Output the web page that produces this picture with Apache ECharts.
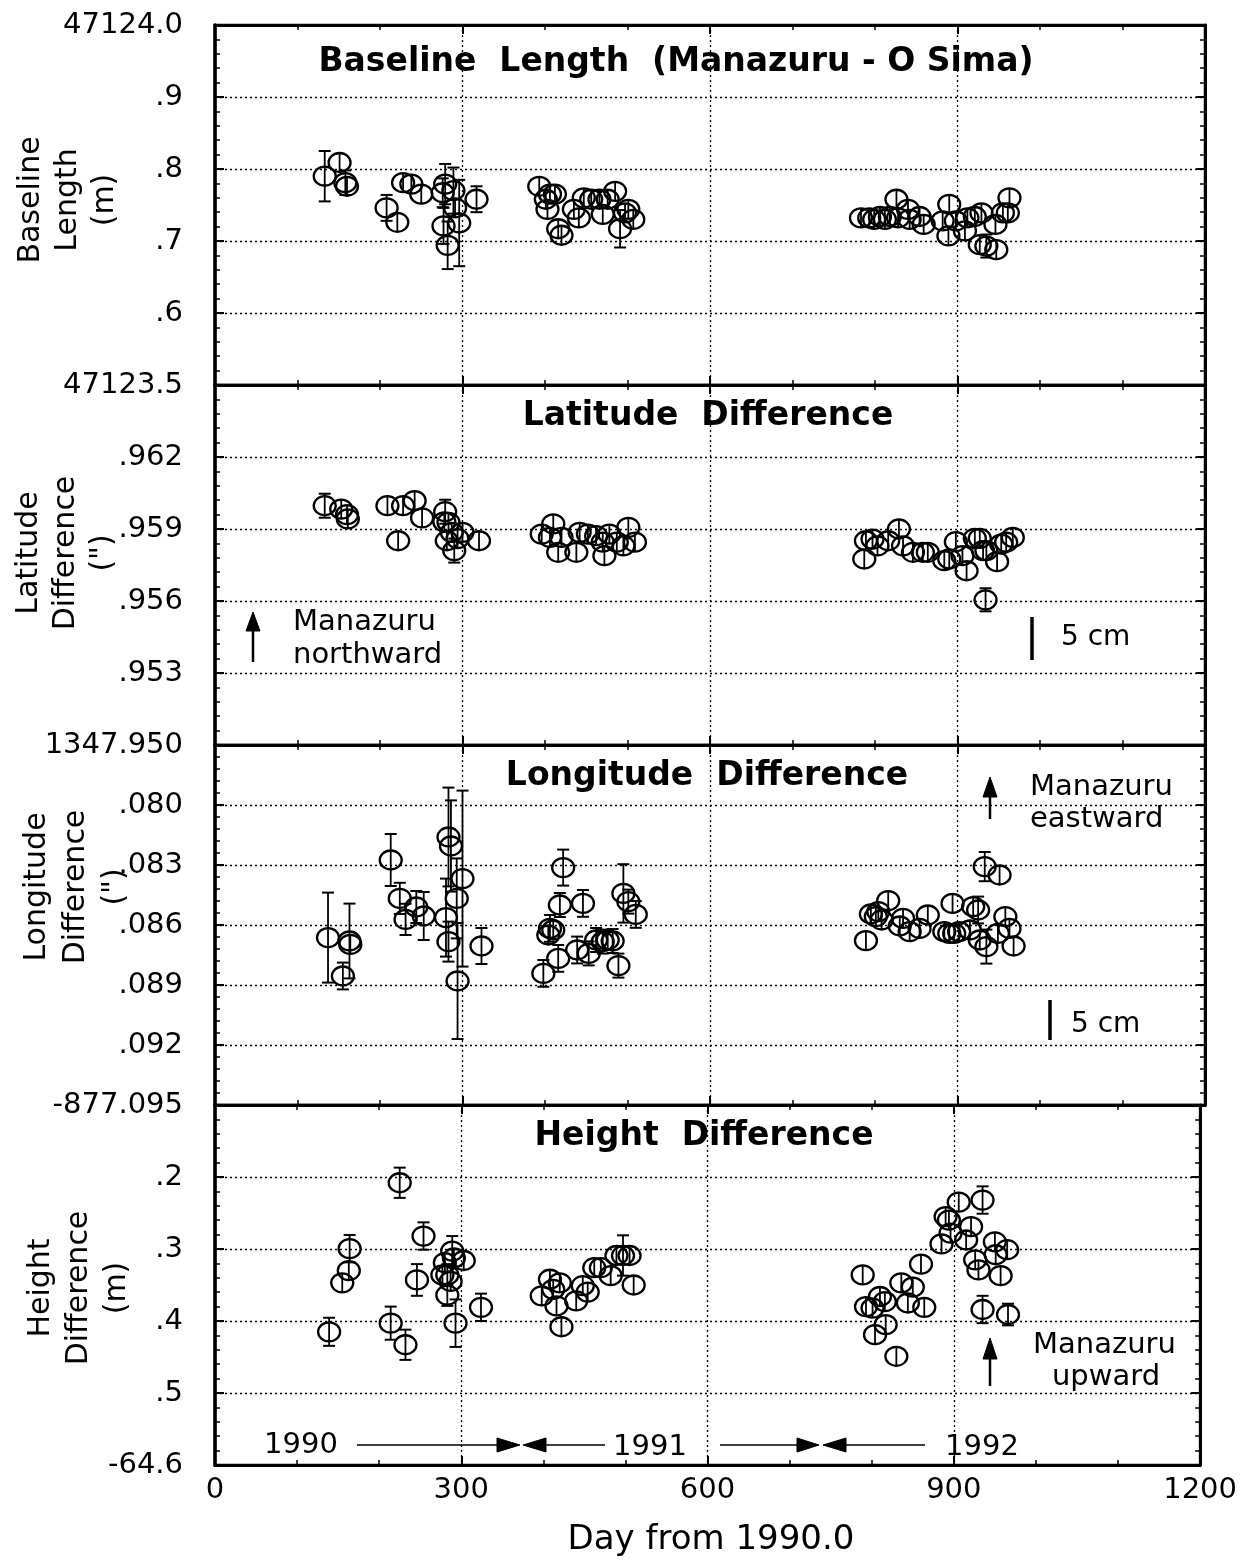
<!DOCTYPE html>
<html><head><meta charset="utf-8">
<script src="https://cdn.jsdelivr.net/npm/echarts@6/dist/echarts.min.js"></script>
<style>html,body{margin:0;padding:0;background:#fff}#c{width:1240px;height:1559px}</style>
</head><body><div id="c"></div><script>
// ---------------- DATA ----------------
var dayTicks = ['0', '300', '600', '900', '1200'];

var baselineTicks = ['47123.5', '.6', '.7', '.8', '.9', '47124.0'];
var baselineDay = [133,151,158,160,208,221,228,238,250,276,279,277,282,289,291,296,317,
  393,401,403,406,412,416,420,435,441,447,456,466,470,476,485,491,497,501,507,
  783,793,799,806,812,818,826,828,840,842,854,859,882,890,889,898,909,912,921,929,927,935,947,946,955,961,963];
var baselineLength = [47123.790,47123.809,47123.781,47123.776,47123.746,47123.726,47123.781,47123.779,47123.765,47123.767,47123.779,47123.721,47123.694,47123.770,47123.746,47123.725,47123.758,
  47123.776,47123.758,47123.744,47123.765,47123.765,47123.717,47123.708,47123.744,47123.732,47123.760,47123.758,47123.758,47123.737,47123.758,47123.769,47123.717,47123.739,47123.744,47123.730,
  47123.732,47123.732,47123.730,47123.734,47123.730,47123.734,47123.758,47123.732,47123.744,47123.730,47123.734,47123.723,47123.728,47123.751,47123.707,47123.728,47123.714,47123.732,47123.734,47123.739,47123.695,47123.693,47123.688,47123.723,47123.739,47123.739,47123.760];
var baselineErr = [0.035,0.008,0.017,0.010,0.018,0.012,0.010,0.010,0.014,0.020,0.028,0.025,0.033,0.032,0.012,0.060,0.018,
  0.011,0.01,0.01,0.01,0.01,0.01,0.01,0.01,0.01,0.01,0.01,0.01,0.01,0.01,0.01,0.026,0.01,0.01,0.01,
  0.01,0.01,0.01,0.01,0.01,0.01,0.01,0.01,0.01,0.01,0.01,0.01,0.01,0.01,0.01,0.01,0.01,0.01,0.01,0.01,0.01,0.016,0.01,0.01,0.01,0.01,0.01];

var latitudeTicks = ['1347.950', '.953', '.956', '.959', '.962', ''];
var latitudeDay = [133,153,160,161,209,222,228,242,251,279,278,283,281,287,290,294,300,320,
  396,406,410,416,420,438,442,452,462,470,472,478,487,495,501,509,
  787,789,797,803,816,829,834,846,858,864,884,890,898,906,911,921,927,931,935,934,948,953,959,967];
var latitudeDiff = [1347.95997,1347.95983,1347.95960,1347.95942,1347.95997,1347.95851,1347.95997,1347.96018,1347.95946,1347.95972,1347.95930,1347.95928,1347.95851,1347.95886,1347.95810,1347.95860,1347.95886,1347.95851,
  1347.95879,1347.95865,1347.95921,1347.95803,1347.95865,1347.95803,1347.95886,1347.95879,1347.95872,1347.95845,1347.95789,1347.95879,1347.95845,1347.95830,1347.95907,1347.95845,
  1347.95775,1347.95851,1347.95858,1347.95830,1347.95851,1347.95900,1347.95830,1347.95803,1347.95803,1347.95803,1347.95768,1347.95775,1347.95847,1347.95789,1347.95726,1347.95861,1347.95861,1347.95810,1347.95810,1347.95605,1347.95764,1347.95837,1347.95845,1347.95865];
var latitudeErr = [0.0005,0.0003,0.0003,0.0003,0.0003,0.0003,0.0003,0.0003,0.0003,0.0005,0.0003,0.0003,0.0003,0.0003,0.0005,0.0003,0.0003,0.0003,
  0.0003,0.0003,0.0003,0.0003,0.0003,0.0003,0.0003,0.0003,0.0003,0.0003,0.0003,0.0003,0.0003,0.0003,0.0003,0.0003,
  0.0003,0.0003,0.0003,0.0003,0.0003,0.0003,0.0003,0.0003,0.0003,0.0003,0.0003,0.0003,0.0003,0.0003,0.0003,0.0003,0.0003,0.0003,0.0003,0.00048,0.0003,0.0003,0.0003,0.0003];

var longitudeTicks = ['-877.095', '.092', '.089', '.086', '.083', '.080', ''];
var longitudeDay = [137,155,163,164,213,224,231,244,253,280,283,286,283,293,300,294,323,
  422,418,446,406,410,404,416,398,439,453,462,470,476,482,489,495,501,510,
  789,795,801,804,808,816,830,834,842,854,864,884,890,894,896,902,915,919,925,927,933,935,949,951,958,963,968];
var longitudeDiff = [-877.08663,-877.08855,-877.08680,-877.08697,-877.08275,-877.08467,-877.08572,-877.08510,-877.08555,-877.08563,-877.08160,-877.08205,-877.08683,-877.08467,-877.08368,-877.08880,-877.08705,
  -877.08313,-877.08500,-877.08492,-877.08617,-877.08625,-877.08650,-877.08767,-877.08842,-877.08725,-877.08742,-877.08675,-877.08683,-877.08675,-877.08680,-877.08803,-877.08442,-877.08483,-877.08547,
  -877.08678,-877.08545,-877.08558,-877.08533,-877.08575,-877.08478,-877.08605,-877.08567,-877.08633,-877.08617,-877.08550,-877.08633,-877.08642,-877.08492,-877.08642,-877.08633,-877.08625,-877.08508,-877.08525,-877.08675,-877.08308,-877.08708,-877.08642,-877.08350,-877.08558,-877.08617,-877.08705];
var longitudeErr = [0.00225,0.00067,0.00187,0.0005,0.0013,0.00078,0.00078,0.0008,0.0012,0.00195,0.00247,0.00228,0.001,0.002,0.0044,0.0029,0.0009,
  0.0009,0.0006,0.00067,0.00067,0.0005,0.0005,0.00067,0.00067,0.00067,0.0006,0.0006,0.0006,0.0005,0.0006,0.0006,0.00146,0.0006,0.00067,
  0.0004,0.0004,0.0004,0.0004,0.0004,0.0005,0.0004,0.0004,0.0005,0.0004,0.00045,0.0004,0.0004,0.0004,0.0004,0.0004,0.0004,0.0004,0.00067,0.0004,0.00073,0.00085,0.0004,0.00045,0.00045,0.0004,0.0005];

var heightTicks = ['-64.6', '.5', '.4', '.3', '.2', ''];
var heightDay = [139,155,163,164,214,225,232,246,254,277,280,283,283,287,289,291,293,303,324,
  398,408,412,416,420,422,440,448,454,462,470,482,489,497,505,510,
  789,793,801,804,810,816,817,830,836,844,850,860,864,885,890,894,896,906,915,921,926,930,935,935,950,951,957,965,966];
var heightDiff = [-64.415,-64.347,-64.330,-64.2995,-64.403,-64.208,-64.433,-64.343,-64.282,-64.336,-64.319,-64.336,-64.364,-64.345,-64.303,-64.3125,-64.403,-64.316,-64.381,
  -64.365,-64.342,-64.356,-64.379,-64.347,-64.408,-64.372,-64.351,-64.360,-64.326,-64.326,-64.337,-64.309,-64.309,-64.309,-64.350,
  -64.336,-64.380,-64.382,-64.419,-64.366,-64.373,-64.405,-64.449,-64.347,-64.375,-64.353,-64.321,-64.381,-64.293,-64.255,-64.260,-64.278,-64.235,-64.2875,-64.269,-64.315,-64.329,-64.232,-64.384,-64.290,-64.308,-64.337,-64.301,-64.391];
var heightErr = [0.0195,0.01,0.01,0.019,0.023,0.021,0.021,0.022,0.019,0.01,0.01,0.015,0.015,0.01,0.021,0.01,0.033,0.01,0.019,
  0.008,0.008,0.008,0.008,0.008,0.014,0.008,0.008,0.008,0.008,0.008,0.008,0.008,0.028,0.008,0.008,
  0.008,0.008,0.008,0.008,0.008,0.008,0.008,0.014,0.008,0.008,0.008,0.008,0.008,0.008,0.008,0.014,0.008,0.008,0.008,0.014,0.008,0.008,0.019,0.019,0.014,0.008,0.008,0.014,0.015];

// ---------------- LAYOUT / STYLE ----------------
var FONT = '"DejaVu Sans", "Liberation Sans", Arial, sans-serif';
var panels = [
  {day: baselineDay, val: baselineLength, err: baselineErr, base: 47123.5, scale: 10, max: 5, interval: 1, ticks: baselineTicks, top: 25, minor: 5},
  {day: latitudeDay, val: latitudeDiff, err: latitudeErr, base: 1347.950, scale: 1000, max: 15, interval: 3, ticks: latitudeTicks, top: 385, minor: 5},
  {day: longitudeDay, val: longitudeDiff, err: longitudeErr, base: -877.095, scale: 1000, max: 18, interval: 3, ticks: longitudeTicks, top: 745, minor: 5},
  {day: heightDay, val: heightDiff, err: heightErr, base: -64.6, scale: 10, max: 5, interval: 1, ticks: heightTicks, top: 1105, minor: 5}
];
var RX = 11, RY = 9.5;

function renderItem(params, api) {
  var x = api.value(0), y = api.value(1), e = api.value(2);
  var c = api.coord([x, y]);
  var t = api.coord([x, y + e])[1], b = api.coord([x, y - e])[1];
  var half = Math.max((b - t) / 2, RY);
  var ch = [
    {type: 'line', shape: {x1: c[0], y1: c[1] - half, x2: c[0], y2: c[1] + half}, style: {stroke: '#000', lineWidth: 1.8}},
    {type: 'ellipse', shape: {cx: c[0], cy: c[1], rx: RX, ry: RY}, style: {fill: 'none', stroke: '#000', lineWidth: 2.3}}
  ];
  if (half > RY + 1) {
    ch.push({type: 'line', shape: {x1: c[0] - 6, y1: c[1] - half, x2: c[0] + 6, y2: c[1] - half}, style: {stroke: '#000', lineWidth: 2}});
    ch.push({type: 'line', shape: {x1: c[0] - 6, y1: c[1] + half, x2: c[0] + 6, y2: c[1] + half}, style: {stroke: '#000', lineWidth: 2}});
  }
  return {type: 'group', children: ch};
}

var grids = [], xAxes = [], yAxes = [], series = [];
panels.forEach(function (p, i) {
  grids.push({left: 215, width: 990, top: p.top, height: 360, show: true, borderColor: '#000', borderWidth: 2.5, backgroundColor: 'transparent'});
  xAxes.push({
    type: 'value', gridIndex: i, min: 0, max: 1200, interval: 300, position: 'bottom',
    axisLine: {onZero: false, lineStyle: {color: '#000', width: 3}},
    axisTick: {inside: true, length: 9, lineStyle: {color: '#000', width: 2}},
    minorTick: {show: true, splitNumber: 3, length: 5, lineStyle: {color: '#000', width: 1.5}},
    splitLine: {show: true, lineStyle: {color: '#000', width: 1.3, type: [2, 3]}},
    axisLabel: {show: i === 3, color: '#000', fontFamily: FONT, fontSize: 29, margin: 11,
      formatter: function (v) { return dayTicks[Math.round(v / 300)]; }}
  });
  xAxes.push({
    type: 'value', gridIndex: i, min: 0, max: 1200, interval: 300, position: 'top',
    axisLine: {onZero: false, lineStyle: {color: '#000', width: 3}},
    axisTick: {inside: true, length: 9, lineStyle: {color: '#000', width: 2}},
    minorTick: {show: true, splitNumber: 3, length: 5, lineStyle: {color: '#000', width: 1.5}},
    splitLine: {show: false}, axisLabel: {show: false}
  });
  yAxes.push({
    type: 'value', gridIndex: i, min: 0, max: p.max, interval: p.interval, position: 'left',
    axisLine: {onZero: false, lineStyle: {color: '#000', width: 3.5}},
    axisTick: {inside: true, length: 9, lineStyle: {color: '#000', width: 2}},
    minorTick: {show: true, splitNumber: p.minor, length: 5, lineStyle: {color: '#000', width: 1.5}},
    splitLine: {show: true, lineStyle: {color: '#000', width: 1.3, type: [2, 3]}},
    axisLabel: {show: true, color: '#000', fontFamily: FONT, fontSize: 29, margin: 32, showMinLabel: true, showMaxLabel: true,
      formatter: (function (tk, iv) { return function (v) { var s = tk[Math.round(v / iv)]; return s === undefined ? '' : s; }; })(p.ticks, p.interval)}
  });
  yAxes.push({
    type: 'value', gridIndex: i, min: 0, max: p.max, interval: p.interval, position: 'right',
    axisLine: {onZero: false, lineStyle: {color: '#000', width: 3}},
    axisTick: {inside: true, length: 9, lineStyle: {color: '#000', width: 2}},
    minorTick: {show: true, splitNumber: p.minor, length: 5, lineStyle: {color: '#000', width: 1.5}},
    splitLine: {show: false}, axisLabel: {show: false}
  });
  var data = p.day.map(function (d, k) { return [d, (p.val[k] - p.base) * p.scale, p.err[k] * p.scale]; });
  series.push({type: 'custom', xAxisIndex: 2 * i, yAxisIndex: 2 * i, data: data, renderItem: renderItem,
    encode: {x: 0, y: 1}, silent: true, clip: false, z: 5});
});

function txt(x, y, s, size, opts) {
  opts = opts || {};
  return {type: 'text', x: x, y: y, rotation: opts.rot || 0, z: 20,
    style: {text: s, fill: '#000', font: (opts.bold ? 'bold ' : '') + size + 'px ' + FONT,
      textAlign: opts.align || 'center', textVerticalAlign: 'middle', lineHeight: opts.lh || size * 1.2}};
}
function ln(x1, y1, x2, y2, w) {
  return {type: 'line', z: 20, shape: {x1: x1, y1: y1, x2: x2, y2: y2}, style: {stroke: '#000', lineWidth: w || 2}};
}
function tri(pts) {
  return {type: 'polygon', z: 20, shape: {points: pts}, style: {fill: '#000', stroke: '#000', lineWidth: 1}};
}

var graphics = [
  // panel titles
  txt(676, 62, 'Baseline  Length  (Manazuru - O Sima)', 33, {bold: true}),
  txt(708, 416, 'Latitude  Difference', 33, {bold: true}),
  txt(707, 776, 'Longitude  Difference', 33, {bold: true}),
  txt(704, 1136, 'Height  Difference', 33, {bold: true}),
  // y-axis names
  txt(68, 200, 'Baseline\nLength\n(m)', 30, {rot: Math.PI / 2, lh: 37}),
  txt(66, 553, 'Latitude\nDifference\n(")', 30, {rot: Math.PI / 2, lh: 37}),
  txt(76, 887, 'Longitude\nDifference\n(")', 30, {rot: Math.PI / 2, lh: 39}),
  txt(79, 1288, 'Height\nDifference\n(m)', 30, {rot: Math.PI / 2, lh: 38}),
  // x-axis name
  txt(711, 1540, 'Day from 1990.0', 34),
  // panel 2 annotations
  ln(253, 662, 253, 625, 2.5), tri([[246, 631], [253, 612], [260, 631]]),
  txt(293, 622, 'Manazuru', 29, {align: 'left'}),
  txt(293, 655, 'northward', 29, {align: 'left'}),
  ln(1032, 617, 1032, 660, 3.5),
  txt(1061, 638, '5 cm', 28, {align: 'left'}),
  // panel 3 annotations
  ln(990, 819, 990, 792, 2.5), tri([[983, 797], [990, 777], [997, 797]]),
  txt(1030, 787, 'Manazuru', 29, {align: 'left'}),
  txt(1030, 819, 'eastward', 29, {align: 'left'}),
  ln(1050, 1000, 1050, 1040, 3.5),
  txt(1071, 1025, '5 cm', 28, {align: 'left'}),
  // panel 4 annotations
  ln(990, 1386, 990, 1355, 2.5), tri([[983, 1359], [990, 1338], [997, 1359]]),
  txt(1033, 1345, 'Manazuru', 29, {align: 'left'}),
  txt(1106, 1377, 'upward', 29),
  // year arrows
  txt(301, 1445, '1990', 29),
  ln(357, 1445, 500, 1445, 1.5), tri([[497, 1438], [520, 1445], [497, 1452]]),
  tri([[546, 1438], [523, 1445], [546, 1452]]), ln(546, 1445, 605, 1445, 1.5),
  txt(650, 1447, '1991', 29),
  ln(720, 1445, 797, 1445, 1.5), tri([[797, 1438], [819, 1445], [797, 1452]]),
  tri([[846, 1438], [823, 1445], [846, 1452]]), ln(846, 1445, 925, 1445, 1.5),
  txt(982, 1447, '1992', 29)
];

var chart = echarts.init(document.getElementById('c'), null, {renderer: 'canvas'});
chart.setOption({
  animation: false,
  backgroundColor: '#fff',
  grid: grids,
  xAxis: xAxes,
  yAxis: yAxes,
  series: series,
  graphic: {elements: graphics}
});
</script></body></html>
